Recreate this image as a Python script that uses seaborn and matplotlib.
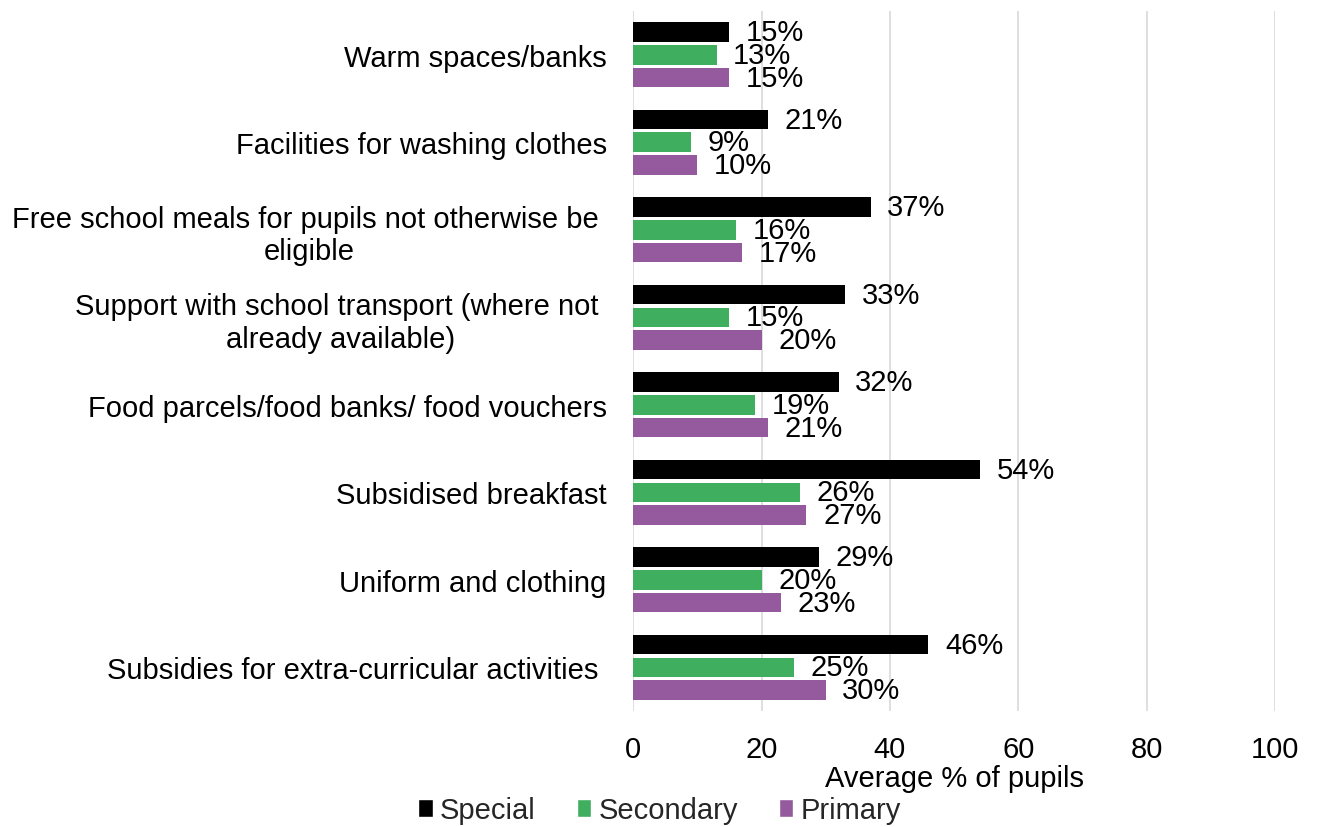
import pandas as pd
import seaborn as sns
import matplotlib.pyplot as plt
from matplotlib.patches import Patch

sns.set_theme(style='white')
plt.rcParams['font.family'] = ['Liberation Sans', 'DejaVu Sans']

categories = [
    'Warm spaces/banks',
    'Facilities for washing clothes',
    'Free school meals for pupils not otherwise be \neligible',
    'Support with school transport (where not \nalready available)',
    'Food parcels/food banks/ food vouchers',
    'Subsidised breakfast',
    'Uniform and clothing',
    'Subsidies for extra-curricular activities ',
]
special = [15, 21, 37, 33, 32, 54, 29, 46]
secondary = [13, 9, 16, 15, 19, 26, 20, 25]
primary = [15, 10, 17, 20, 21, 27, 23, 30]
school_types = ['Special', 'Secondary', 'Primary']
colours = {'Special': '#000000', 'Secondary': '#3fae5e', 'Primary': '#955a9d'}

rows = []
for t, vals in zip(school_types, [special, secondary, primary]):
    for c, v in zip(categories, vals):
        rows.append({'support': c, 'type': t, 'pct': v})
df = pd.DataFrame(rows)

fig, ax = plt.subplots(figsize=(13.19, 8.28), dpi=100)
fig.subplots_adjust(left=0.48, right=0.9667, top=0.9855, bottom=0.14)

sns.barplot(data=df, y='support', x='pct', hue='type', hue_order=school_types,
            order=categories, palette=colours, saturation=1, orient='h',
            errorbar=None, width=0.78, gap=0.14, linewidth=0, ax=ax)

for cont in ax.containers:
    ax.bar_label(cont, labels=['%d%%' % v for v in cont.datavalues],
                 padding=12, fontsize=21, color='black')

ax.set_xlim(0, 100)
ax.set_xticks(range(0, 101, 20))
ax.grid(axis='x', color='#d9d9d9', linewidth=1.2)
ax.set_axisbelow(True)
sns.despine(ax=ax, left=True, bottom=True, top=True, right=True)
ax.tick_params(axis='x', length=0, pad=17, labelsize=21, labelcolor='black')
ax.tick_params(axis='y', length=0, pad=19, labelsize=21, labelcolor='black')
for lbl in ax.get_yticklabels():
    lbl.set_multialignment('center')
ax.set_ylabel('')
ax.set_xlabel('Average % of pupils', fontsize=21, color='black', labelpad=1)

ax.get_legend().remove()
handles = [Patch(facecolor=colours[t], label=t) for t in school_types]
fig.legend(handles=handles, loc='center', bbox_to_anchor=(0.5, 0.02), ncol=3,
           frameon=False, fontsize=21, handlelength=0.5, handleheight=0.6,
           handletextpad=0.25, columnspacing=1.4, borderaxespad=0)

fig.savefig('out.png', dpi=100)
